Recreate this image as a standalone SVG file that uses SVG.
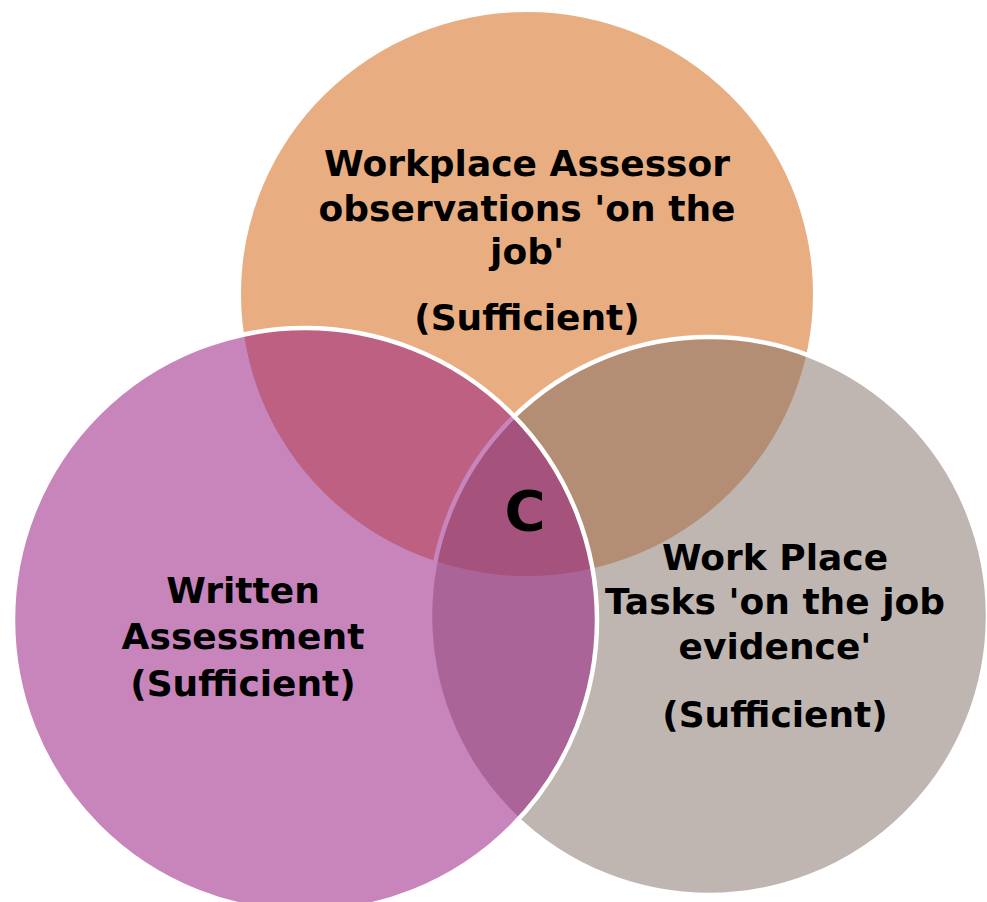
<svg xmlns="http://www.w3.org/2000/svg" width="987" height="902" viewBox="0 0 987 902">
  <style>
    .lbl { font-family: "DejaVu Sans", "Liberation Sans", sans-serif; font-weight: bold; font-size: 36px; fill: #000; text-anchor: middle; }
    .c { font-family: "DejaVu Sans", "Liberation Sans", sans-serif; font-weight: bold; font-size: 56px; fill: #000; text-anchor: middle; }
  </style>
  <rect width="987" height="902" fill="#ffffff"/>
  <g id="observations">
    <ellipse cx="527" cy="294" rx="286" ry="282" fill="#E8AE82"/>
  </g>
  <g id="tasks">
    <circle cx="709" cy="616" r="279" fill="#7F6D65" fill-opacity="0.5" stroke="#ffffff" stroke-width="4.5"/>
  </g>
  <g id="written">
    <circle cx="305" cy="620" r="292" fill="#992183" fill-opacity="0.55" stroke="#ffffff" stroke-width="4.5"/>
  </g>
  <g id="labels">
    <text class="lbl" x="527" y="176">Workplace Assessor</text>
    <text class="lbl" x="527" y="221">observations 'on the</text>
    <text class="lbl" x="527" y="264">job'</text>
    <text class="lbl" x="527" y="330">(Sufficient)</text>
    <text class="lbl" x="243" y="603">Written</text>
    <text class="lbl" x="243" y="649">Assessment</text>
    <text class="lbl" x="243" y="696">(Sufficient)</text>
    <text class="lbl" x="775" y="570">Work Place</text>
    <text class="lbl" x="775" y="614">Tasks 'on the job</text>
    <text class="lbl" x="775" y="659">evidence'</text>
    <text class="lbl" x="775" y="727">(Sufficient)</text>
    <text class="c" x="525" y="530">C</text>
  </g>
</svg>
